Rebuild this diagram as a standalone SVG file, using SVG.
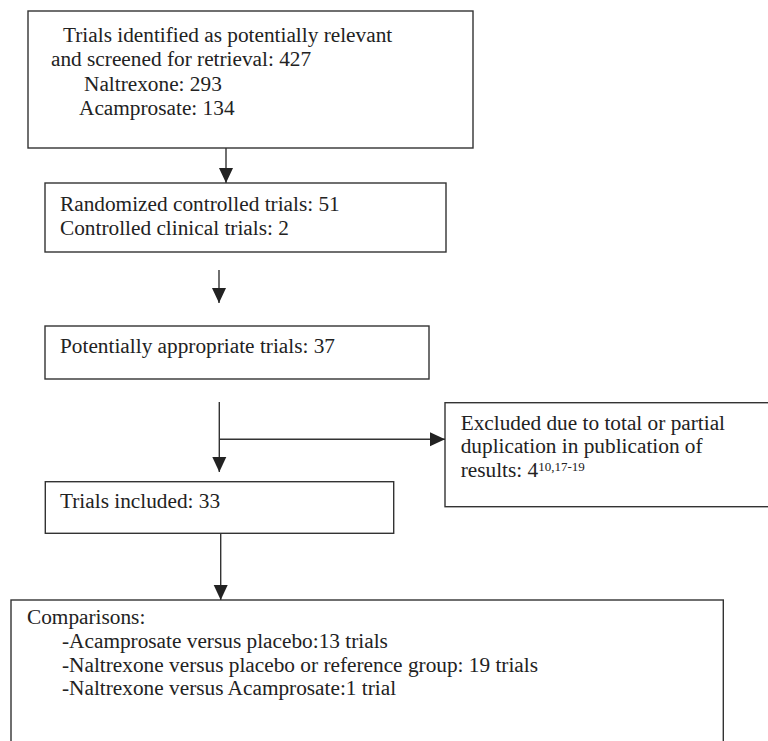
<svg xmlns="http://www.w3.org/2000/svg" width="768" height="741" viewBox="0 0 768 741">
<style>
.box{fill:#fff;stroke:#333;stroke-width:1.4}
.t{font-family:"Liberation Serif","Times New Roman",serif;font-size:21.3px;fill:#222}
.sup{font-size:13px}
.conn line{stroke:#333;stroke-width:1.4;fill:none}
</style>
<defs>
<marker id="arr" markerUnits="userSpaceOnUse" markerWidth="16" markerHeight="16" viewBox="0 0 16 16" refX="15" refY="8" orient="auto">
<path d="M0,1 L15,8 L0,15 Z" fill="#222"/>
</marker>
</defs>
<rect width="768" height="741" fill="#fff"/>
<g id="n1">
<rect class="box" x="28" y="11" width="445" height="137"/>
<text class="t" x="63" y="41.7">Trials identified as potentially relevant</text>
<text class="t" x="51" y="66">and screened for retrieval: 427</text>
<text class="t" x="84" y="90.5">Naltrexone: 293</text>
<text class="t" x="79" y="115">Acamprosate: 134</text>
</g>
<g id="n2">
<rect class="box" x="45" y="183" width="401" height="69"/>
<text class="t" x="60" y="210.7">Randomized controlled trials: 51</text>
<text class="t" x="60" y="235">Controlled clinical trials: 2</text>
</g>
<g id="n3">
<rect class="box" x="45" y="326" width="384" height="53"/>
<text class="t" x="60" y="353.3">Potentially appropriate trials: 37</text>
</g>
<g id="n4">
<rect class="box" x="445" y="402.7" width="330" height="104"/>
<text class="t" x="460.7" y="430">Excluded due to total or partial</text>
<text class="t" x="460.7" y="453.3">duplication in publication of</text>
<text class="t" x="460.7" y="477.3">results: 4<tspan class="sup" dy="-6">10,17-19</tspan></text>
</g>
<g id="n5">
<rect class="box" x="45.3" y="481.7" width="348.4" height="51.6"/>
<text class="t" x="60" y="508.3">Trials included: 33</text>
</g>
<g id="n6">
<rect class="box" x="11" y="600" width="712.3" height="160"/>
<text class="t" x="27" y="624">Comparisons:</text>
<text class="t" x="62" y="647.5">-Acamprosate versus placebo:13 trials</text>
<text class="t" x="62" y="671.5">-Naltrexone versus placebo or reference group: 19 trials</text>
<text class="t" x="62" y="695">-Naltrexone versus Acamprosate:1 trial</text>
</g>
<g id="connectors" class="conn">
<line x1="226" y1="148" x2="226" y2="183" marker-end="url(#arr)"/>
<line x1="219" y1="270" x2="219" y2="303" marker-end="url(#arr)"/>
<line x1="219.3" y1="402" x2="219.3" y2="472" marker-end="url(#arr)"/>
<line x1="219.3" y1="439.3" x2="445" y2="439.3" marker-end="url(#arr)"/>
<line x1="220.7" y1="533.3" x2="220.7" y2="600" marker-end="url(#arr)"/>
</g>
</svg>
